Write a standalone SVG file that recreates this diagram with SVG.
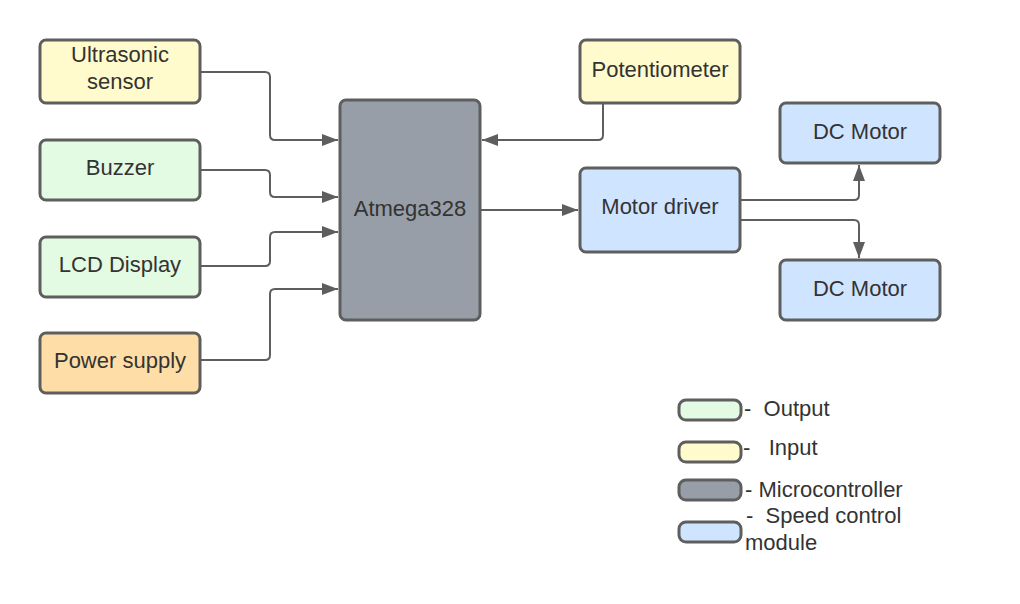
<svg xmlns="http://www.w3.org/2000/svg" width="1020" height="604" viewBox="0 0 1020 604">
<defs>
<style>
.n{stroke:#5e5e5e;stroke-width:3}
.y{fill:#fffbcc}.g{fill:#e3fae3}.b{fill:#cfe4ff}.m{fill:#979ea8}.o{fill:#ffdda6}
text{font-family:"Liberation Sans",Arial,sans-serif;font-size:22px;fill:#333333}
.c{text-anchor:middle}
.e{fill:none;stroke:#5e5e5e;stroke-width:2}
</style>
<marker id="a" viewBox="0 0 16 12" refX="16" refY="6" markerWidth="16" markerHeight="12" markerUnits="userSpaceOnUse" orient="auto">
<path d="M0,0 L16,6 L0,12 Z" fill="#5e5e5e"/>
</marker>
</defs>
<rect width="1020" height="604" fill="#ffffff"/>
<g id="connectors">
<path class="e" d="M200,72 H265 Q270,72 270,77 V135 Q270,140 275,140 H338" marker-end="url(#a)"/>
<path class="e" d="M200,170 H265 Q270,170 270,175 V192 Q270,197 275,197 H338" marker-end="url(#a)"/>
<path class="e" d="M200,266 H265 Q270,266 270,261 V237 Q270,232 275,232 H338" marker-end="url(#a)"/>
<path class="e" d="M200,360 H265 Q270,360 270,355 V294 Q270,289 275,289 H338" marker-end="url(#a)"/>
<path class="e" d="M603,103 V135 Q603,140 598,140 H482" marker-end="url(#a)"/>
<path class="e" d="M480,210 H578" marker-end="url(#a)"/>
<path class="e" d="M740,200 H854 Q859,200 859,195 V165" marker-end="url(#a)"/>
<path class="e" d="M740,220 H854 Q859,220 859,225 V258" marker-end="url(#a)"/>
</g>
<g id="ultrasonic"><rect class="n y" x="40" y="40" width="160" height="63" rx="6"/><text class="c" x="120" y="62">Ultrasonic</text><text class="c" x="120" y="89">sensor</text></g>
<g id="buzzer"><rect class="n g" x="40" y="140" width="160" height="60" rx="6"/><text class="c" x="120" y="175">Buzzer</text></g>
<g id="lcd"><rect class="n g" x="40" y="237" width="160" height="60" rx="6"/><text class="c" x="120" y="272">LCD Display</text></g>
<g id="power"><rect class="n o" x="40" y="333" width="160" height="60" rx="6"/><text class="c" x="120" y="368">Power supply</text></g>
<g id="atmega"><rect class="n m" x="340" y="100" width="140" height="220" rx="6"/><text class="c" x="410" y="216">Atmega328</text></g>
<g id="potentiometer"><rect class="n y" x="580" y="40" width="160" height="63" rx="6"/><text class="c" x="660" y="77">Potentiometer</text></g>
<g id="motordriver"><rect class="n b" x="580" y="168" width="160" height="84" rx="6"/><text class="c" x="660" y="214">Motor driver</text></g>
<g id="dcmotor1"><rect class="n b" x="780" y="103" width="160" height="60" rx="6"/><text class="c" x="860" y="139">DC Motor</text></g>
<g id="dcmotor2"><rect class="n b" x="780" y="260" width="160" height="60" rx="6"/><text class="c" x="860" y="296">DC Motor</text></g>
<g id="legend">
<rect class="n g" x="679" y="400" width="62" height="20" rx="7"/>
<text x="744" y="416" xml:space="preserve">-  Output</text>
<rect class="n y" x="679" y="442" width="62" height="20" rx="7"/>
<text x="743" y="455" xml:space="preserve">-   Input</text>
<rect class="n m" x="679" y="480" width="62" height="20" rx="7"/>
<text x="745" y="497" xml:space="preserve">- Microcontroller</text>
<rect class="n b" x="679" y="522" width="62" height="20" rx="7"/>
<text x="746" y="523" xml:space="preserve">-  Speed control</text>
<text x="745" y="550">module</text>
</g>
</svg>
